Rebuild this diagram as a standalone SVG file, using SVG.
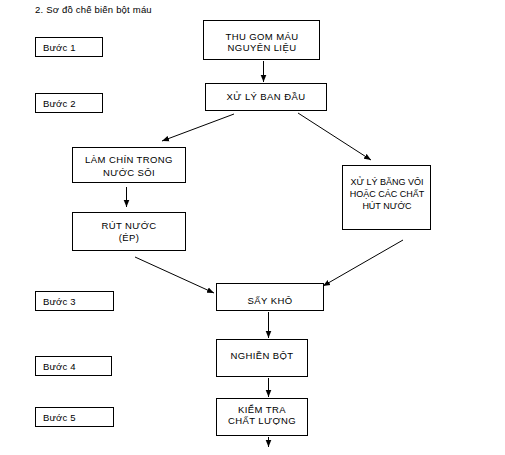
<svg xmlns="http://www.w3.org/2000/svg" width="505" height="455" viewBox="0 0 505 455">
<style>
.box{fill:#fff;stroke:#000;stroke-width:1}
.t{font-family:"Liberation Sans",Arial,sans-serif;font-size:9.5px;fill:#000;text-anchor:middle;letter-spacing:0.4px}
.n{letter-spacing:0;font-size:9px}
.s{font-family:"Liberation Sans",Arial,sans-serif;font-size:9.5px;fill:#000;letter-spacing:0.2px}
.c{stroke:#000;stroke-width:1;fill:none;marker-end:url(#ah)}
</style>
<defs>
<marker id="ah" viewBox="0 0 10 10" refX="10" refY="5" markerWidth="7" markerHeight="7" markerUnits="userSpaceOnUse" orient="auto">
<path d="M0,1 L10,5 L0,9 Z" fill="#000"/>
</marker>
</defs>
<rect width="505" height="455" fill="#fff"/>
<text class="s" x="35" y="13">2. Sơ đồ chế biến bột máu</text>

<g id="buoc1"><rect class="box" x="35.5" y="37.5" width="67" height="19"/><text class="s" x="43" y="50.5">Bước 1</text></g>
<g id="buoc2"><rect class="box" x="35.5" y="93.5" width="67" height="19"/><text class="s" x="43" y="106.5">Bước 2</text></g>
<g id="buoc3"><rect class="box" x="35.5" y="291.5" width="78" height="19"/><text class="s" x="43" y="304.5">Bước 3</text></g>
<g id="buoc4"><rect class="box" x="35.5" y="356.5" width="76" height="19"/><text class="s" x="43" y="369.5">Bước 4</text></g>
<g id="buoc5"><rect class="box" x="35.5" y="407.5" width="78" height="19"/><text class="s" x="43" y="420.5">Bước 5</text></g>

<g id="thugom"><rect class="box" x="203.5" y="20.5" width="116" height="39"/><text class="t" x="262" y="40">THU GOM MÁU</text><text class="t" x="262" y="51">NGUYÊN LIỆU</text></g>
<g id="xulyban"><rect class="box" x="205.5" y="83.5" width="121" height="27"/><text class="t" x="266" y="100">XỬ LÝ BAN ĐẦU</text></g>
<g id="lamchin"><rect class="box" x="72.5" y="147.5" width="113" height="35"/><text class="t" x="129" y="163">LÀM CHÍN TRONG</text><text class="t" x="129" y="176">NƯỚC SÔI</text></g>
<g id="rutnuoc"><rect class="box" x="72.5" y="212.5" width="113" height="38"/><text class="t" x="129" y="229">RÚT NƯỚC</text><text class="t" x="129" y="241">(ÉP)</text></g>
<g id="xulyvoi"><rect class="box" x="342.5" y="165.5" width="88" height="64"/><text class="t n" x="387" y="185">XỬ LÝ BẰNG VÔI</text><text class="t n" x="387" y="197">HOẶC CÁC CHẤT</text><text class="t n" x="387" y="209">HÚT NƯỚC</text></g>
<g id="saykho"><rect class="box" x="216.5" y="283.5" width="107" height="27"/><text class="t" x="270" y="304">SẤY KHÔ</text></g>
<g id="nghien"><rect class="box" x="216.5" y="339.5" width="91" height="37"/><text class="t" x="262" y="359">NGHIỀN BỘT</text></g>
<g id="kiemtra"><rect class="box" x="216.5" y="398.5" width="91" height="37"/><text class="t" x="262" y="413">KIỂM TRA</text><text class="t" x="262" y="424">CHẤT LƯỢNG</text></g>

<g id="connectors">
<line class="c" x1="263.5" y1="61" x2="263.5" y2="82"/>
<line class="c" x1="234" y1="114" x2="162" y2="141"/>
<line class="c" x1="298" y1="113" x2="371" y2="160"/>
<line class="c" x1="126.5" y1="187" x2="126.5" y2="207"/>
<line class="c" x1="135" y1="257" x2="214" y2="293"/>
<line class="c" x1="403" y1="240" x2="323" y2="286"/>
<line class="c" x1="268.5" y1="312" x2="268.5" y2="338"/>
<line class="c" x1="268.5" y1="378" x2="268.5" y2="397"/>
<line class="c" x1="268.5" y1="437" x2="268.5" y2="447"/>
</g>
</svg>
